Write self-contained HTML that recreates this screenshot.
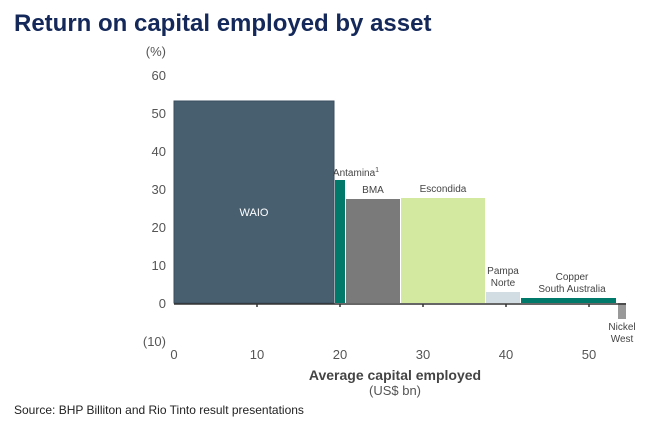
<!DOCTYPE html>
<html><head><style>
body{margin:0;background:#fff;width:656px;height:422px;overflow:hidden;font-family:"Liberation Sans",sans-serif;}
</style></head><body>
<svg width="656" height="422" xmlns="http://www.w3.org/2000/svg" font-family="Liberation Sans, sans-serif">
<text x="14" y="31" font-size="24" font-weight="bold" fill="#14295a">Return on capital employed by asset</text>
<g font-size="13" fill="#555" text-anchor="end">
<text x="166" y="56">(%)</text>
<text x="166" y="80">60</text>
<text x="166" y="118">50</text>
<text x="166" y="156">40</text>
<text x="166" y="194">30</text>
<text x="166" y="232">20</text>
<text x="166" y="270">10</text>
<text x="166" y="308">0</text>
<text x="166" y="346">(10)</text>
</g>
<rect x="174" y="101" width="160" height="202" fill="#485f70" stroke="#3a4d5c"/>
<text x="254" y="216" font-size="11" fill="#fff" text-anchor="middle">WAIO</text>
<rect x="335" y="180" width="10" height="123" fill="#00796b"/>
<rect x="346" y="199" width="54" height="104" fill="#7a7a7a"/>
<rect x="401" y="198" width="84" height="105" fill="#d3e9a0"/>
<rect x="486" y="292" width="34" height="11" fill="#d2dce3"/>
<rect x="521" y="298" width="95" height="5" fill="#00796b"/>
<rect x="618" y="303" width="8" height="16" fill="#999"/>
<line x1="174" y1="304" x2="626" y2="304" stroke="#333" stroke-width="1.5"/>
<g stroke="#333" stroke-width="1.5">
<line x1="257" y1="304" x2="257" y2="307"/><line x1="340" y1="304" x2="340" y2="307"/>
<line x1="423" y1="304" x2="423" y2="307"/><line x1="506" y1="304" x2="506" y2="307"/>
<line x1="589" y1="304" x2="589" y2="307"/>
</g>
<g font-size="10" fill="#444" text-anchor="middle">
<text x="356" y="176">Antamina<tspan font-size="7" dy="-4">1</tspan></text>
<text x="373" y="193">BMA</text>
<text x="443" y="192">Escondida</text>
<text x="503" y="274">Pampa</text>
<text x="503" y="286">Norte</text>
<text x="572" y="280">Copper</text>
<text x="572" y="292">South Australia</text>
<text x="622" y="330">Nickel</text>
<text x="622" y="342">West</text>
</g>
<g font-size="13" fill="#555" text-anchor="middle">
<text x="174" y="359">0</text><text x="257" y="359">10</text><text x="340" y="359">20</text>
<text x="423" y="359">30</text><text x="506" y="359">40</text><text x="589" y="359">50</text>
</g>
<text x="395" y="380" font-size="14" font-weight="bold" fill="#444" text-anchor="middle">Average capital employed</text>
<text x="395" y="395" font-size="13" fill="#555" text-anchor="middle">(US$ bn)</text>
<text x="14" y="414" font-size="12" fill="#222">Source: BHP Billiton and Rio Tinto result presentations</text>
</svg>
</body></html>
